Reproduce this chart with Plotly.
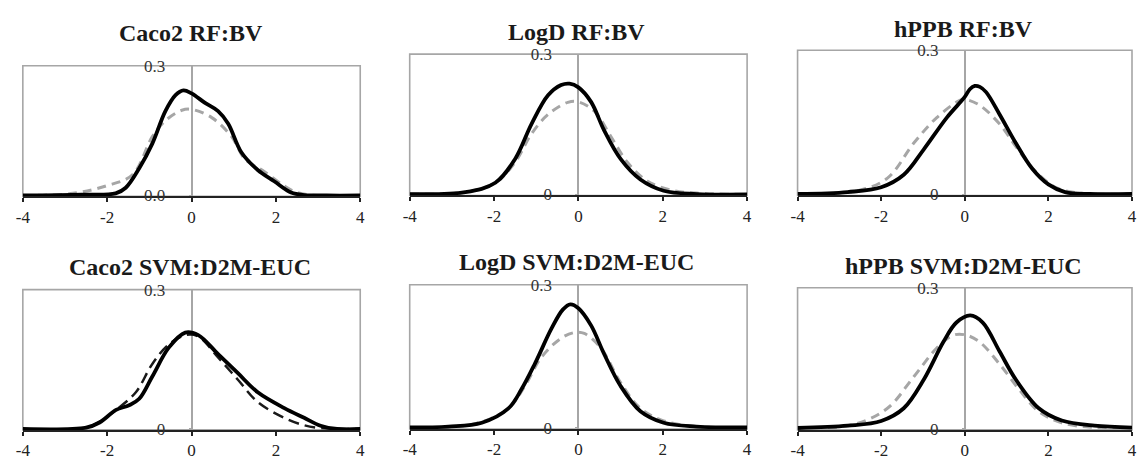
import plotly.graph_objects as go

W, H = 1137, 461

titles = ["Caco2 RF:BV", "LogD RF:BV", "hPPB RF:BV",
          "Caco2 SVM:D2M-EUC", "LogD SVM:D2M-EUC", "hPPB SVM:D2M-EUC"]
ytick_text = [["0.0", "0.3"], ["0", "0.3"], ["0", "0.3"],
              ["0", "0.3"], ["0", "0.3"], ["0", "0.3"]]
xtick_vals = [-4, -2, 0, 2, 4]
ytick_vals = [0, 0.3]

# Panel 1: Caco2 RF:BV
caco2_rf_solid_x = [-4, -2.6, -1.8, -1.56, -1.24, -0.93, -0.62, -0.38, -0.19, 0, 0.32, 0.63, 0.87, 1.18, 1.57, 1.96, 2.36, 2.67, 3.2, 4]
caco2_rf_solid_y = [0, 0.002, 0.005, 0.018, 0.063, 0.12, 0.195, 0.232, 0.243, 0.236, 0.214, 0.195, 0.166, 0.1, 0.059, 0.033, 0.007, 0.001, 0.0, 0.0]
caco2_rf_dash_x = [-4, -2.81, -2.03, -1.4, -0.93, -0.62, -0.23, 0, 0.48, 0.95, 1.26, 1.73, 2.2, 2.5, 2.98, 4]
caco2_rf_dash_y = [0, 0.005, 0.022, 0.048, 0.136, 0.173, 0.197, 0.199, 0.18, 0.136, 0.085, 0.055, 0.022, 0.007, 0.0, 0.0]

# Panel 2: LogD RF:BV
logd_rf_solid_x = [-4, -2.68, -1.97, -1.5, -1.11, -0.72, -0.41, -0.21, 0, 0.3, 0.61, 1.0, 1.47, 2.02, 2.8, 4]
logd_rf_solid_y = [0.001, 0.005, 0.025, 0.076, 0.151, 0.212, 0.234, 0.237, 0.229, 0.198, 0.137, 0.076, 0.032, 0.008, 0.001, 0.0]
logd_rf_dash_x = [-4, -2.68, -1.97, -1.5, -1.11, -0.72, -0.25, 0, 0.38, 0.77, 1.16, 1.63, 2.26, 2.8, 4]
logd_rf_dash_y = [0.001, 0.005, 0.025, 0.069, 0.13, 0.171, 0.197, 0.198, 0.178, 0.124, 0.069, 0.029, 0.008, 0.003, 0.0]

# Panel 3: hPPB RF:BV
hppb_rf_solid_x = [-4, -2.8, -2.0, -1.46, -0.98, -0.43, 0, 0.12, 0.24, 0.36, 0.51, 0.83, 1.22, 1.61, 2.0, 2.4, 3.0, 4]
hppb_rf_solid_y = [0.001, 0.005, 0.015, 0.041, 0.094, 0.16, 0.203, 0.219, 0.226, 0.224, 0.213, 0.167, 0.107, 0.054, 0.021, 0.005, 0.001, 0.001]
hppb_rf_dash_x = [-4, -2.56, -1.85, -1.22, -0.67, -0.12, 0, 0.35, 0.83, 1.22, 1.69, 2.17, 2.72, 4]
hppb_rf_dash_y = [0.001, 0.008, 0.034, 0.107, 0.16, 0.196, 0.198, 0.186, 0.147, 0.1, 0.048, 0.015, 0.003, 0.001]

# Panel 4: Caco2 SVM:D2M-EUC
caco2_svm_solid_x = [-4, -2.5, -2.18, -1.79, -1.48, -1.24, -0.93, -0.54, -0.15, 0.16, 0.63, 1.1, 1.57, 2.2, 2.67, 3.06, 3.45, 4]
caco2_svm_solid_y = [0, 0.003, 0.014, 0.041, 0.051, 0.065, 0.113, 0.175, 0.2075, 0.202, 0.161, 0.12, 0.079, 0.045, 0.024, 0.007, 0.0, 0.0]
caco2_svm_dash_x = [-4, -2.5, -2.18, -1.79, -1.32, -0.93, -0.54, -0.15, 0.16, 0.63, 1.1, 1.57, 2.2, 2.67, 3.06, 4]
caco2_svm_dash_y = [0, 0.003, 0.016, 0.041, 0.079, 0.14, 0.182, 0.202, 0.199, 0.154, 0.106, 0.058, 0.024, 0.008, 0.002, 0.0]

# Panel 5: LogD SVM:D2M-EUC
logd_svm_solid_x = [-4, -3.08, -2.29, -1.66, -1.35, -1.03, -0.64, -0.37, -0.19, 0, 0.3, 0.61, 1.0, 1.47, 2.02, 2.8, 4]
logd_svm_solid_y = [0.001, 0.003, 0.011, 0.041, 0.081, 0.135, 0.208, 0.248, 0.259, 0.251, 0.215, 0.155, 0.088, 0.035, 0.011, 0.003, 0.001]
logd_svm_dash_x = [-4, -2.45, -1.66, -1.27, -0.88, -0.41, -0.09, 0.14, 0.53, 1.0, 1.47, 2.02, 2.8, 4]
logd_svm_dash_y = [0.001, 0.009, 0.041, 0.088, 0.148, 0.188, 0.2, 0.198, 0.168, 0.095, 0.041, 0.015, 0.003, 0.001]

# Panel 6: hPPB SVM:D2M-EUC
hppb_svm_solid_x = [-4, -2.8, -2.0, -1.46, -0.98, -0.51, -0.2, 0.13, 0.43, 0.83, 1.22, 1.77, 2.32, 3.1, 4]
hppb_svm_solid_y = [0.002, 0.007, 0.017, 0.044, 0.105, 0.185, 0.226, 0.241, 0.226, 0.165, 0.105, 0.044, 0.018, 0.007, 0.003]
hppb_svm_dash_x = [-4, -2.64, -1.85, -1.22, -0.67, -0.28, 0, 0.35, 0.83, 1.3, 1.77, 2.32, 3.1, 4]
hppb_svm_dash_y = [0.0, 0.01, 0.044, 0.111, 0.172, 0.199, 0.2, 0.185, 0.138, 0.084, 0.037, 0.013, 0.003, 0.002]

solid = [(caco2_rf_solid_x, caco2_rf_solid_y), (logd_rf_solid_x, logd_rf_solid_y),
         (hppb_rf_solid_x, hppb_rf_solid_y), (caco2_svm_solid_x, caco2_svm_solid_y),
         (logd_svm_solid_x, logd_svm_solid_y), (hppb_svm_solid_x, hppb_svm_solid_y)]
dashed = [(caco2_rf_dash_x, caco2_rf_dash_y), (logd_rf_dash_x, logd_rf_dash_y),
          (hppb_rf_dash_x, hppb_rf_dash_y), (caco2_svm_dash_x, caco2_svm_dash_y),
          (logd_svm_dash_x, logd_svm_dash_y), (hppb_svm_dash_x, hppb_svm_dash_y)]

# panel pixel boxes: (left, right, top, bottom), title centre (x, y)
boxes = [(16, 357, 59, 195), (407, 748, 47, 194), (799, 1137, 43, 194),
         (16, 357, 292, 438), (407, 748, 287, 437), (799, 1137, 290, 438)]
title_pos = [(186, 25), (576, 24), (967, 21), (185, 268), (576, 263), (967, 267)]

GRAY = "#a6a6a6"
SERIF = "Liberation Serif"

fig = go.Figure()
layout = dict(width=W, height=H, margin=dict(l=0, r=0, t=0, b=0),
              paper_bgcolor="white", plot_bgcolor="white", showlegend=False,
              shapes=[], annotations=[])

for i in range(6):
    n = i + 1
    sfx = "" if n == 1 else str(n)
    xa, ya = "x" + sfx, "y" + sfx
    l, r, t, b = boxes[i]
    dom_x = [l / W, min(r / W, 1.0)]
    dom_y = [1 - b / H, 1 - t / H]
    dash_color = "#1a1a1a" if i == 3 else GRAY
    dash_width = 2.5 if i == 3 else 3
    dash_style = "11px,6px" if i == 3 else "9px,6px"
    dx, dy = dashed[i]
    fig.add_trace(go.Scatter(x=dx, y=dy, mode="lines", xaxis=xa, yaxis=ya,
                             line=dict(color=dash_color, width=dash_width, dash=dash_style,
                                       shape="spline", smoothing=1.0)))
    sx, sy = solid[i]
    fig.add_trace(go.Scatter(x=sx, y=sy, mode="lines", xaxis=xa, yaxis=ya,
                             line=dict(color="black", width=3.8, shape="spline", smoothing=1.0)))
    layout["xaxis" + sfx] = dict(domain=dom_x, range=[-4, 4], anchor=ya,
                                 tickvals=xtick_vals, ticktext=[str(v) for v in xtick_vals],
                                 showgrid=False, zeroline=True, zerolinecolor=GRAY, zerolinewidth=1.5,
                                 showline=True, linecolor="#222222", linewidth=2,
                                 ticks="outside", ticklen=4, tickcolor="#222222", tickwidth=1.5,
                                 tickfont=dict(family=SERIF, size=17, color="#222222"))
    layout["yaxis" + sfx] = dict(domain=dom_y, range=[-0.002, 0.3], anchor="free",
                                 position=(l + r) / 2 / W,
                                 tickvals=ytick_vals, ticktext=ytick_text[i],
                                 showgrid=False, zeroline=False, showline=False,
                                 ticks="outside", ticklen=3, tickcolor=GRAY,
                                 ticklabelstandoff=20,
                                 tickfont=dict(family=SERIF, size=17, color="#333333"))
    layout["shapes"].append(dict(type="rect", xref=xa + " domain", yref=ya + " domain",
                                 x0=0, x1=1, y0=0, y1=1, layer="below",
                                 line=dict(color=GRAY, width=1.6)))
    tx, ty = title_pos[i]
    layout["annotations"].append(dict(text="<b>" + titles[i] + "</b>", xref="paper", yref="paper",
                                      x=tx / W, y=1 - ty / H, xanchor="center", yanchor="middle",
                                      showarrow=False,
                                      font=dict(family=SERIF, size=24, color="#1a1a1a")))

fig.update_layout(**layout)
fig.write_html("out.html")
